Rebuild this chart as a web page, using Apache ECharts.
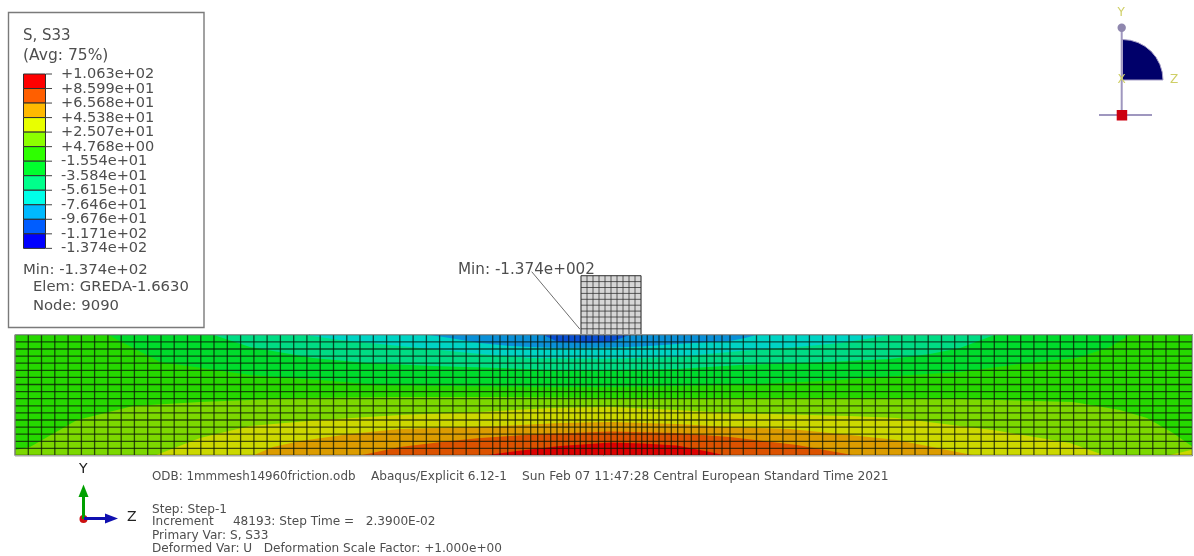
<!DOCTYPE html>
<html>
<head>
<meta charset="utf-8">
<style>
html,body{margin:0;padding:0;background:#fff}
#chart{width:1194px;height:556px;filter:blur(0.5px)}
</style>
<script src="https://cdn.jsdelivr.net/npm/echarts@6/dist/echarts.min.js"></script>
</head>
<body>
<div id="chart"></div>
<script>
// Legend
const legendLabels = ['+1.063e+02','+8.599e+01','+6.568e+01','+4.538e+01','+2.507e+01','+4.768e+00','-1.554e+01','-3.584e+01','-5.615e+01','-7.646e+01','-9.676e+01','-1.171e+02','-1.374e+02'];
const legendColors = ['#ff0000','#ff5f00','#ffb900','#e8ff00','#8cff00','#2eff00','#00ff2e','#00ff8b','#00ffe8','#00b9ff','#005dff','#0000ff'];

// Mesh of the plate (position along the plate, height above its base)
const plateColumns = [0,13.3,26.5,39.8,53.1,66.4,79.6,92.9,106.2,119.4,132.7,146,159.2,172.5,185.8,199,212.3,225.6,238.9,252.1,265.4,278.7,291.9,305.2,318.5,331.8,345,358.3,371.6,384.8,398.1,411.4,424.6,437.9,451.2,464.5,477.7,485,492.7,500.3,508,515.7,522.7,529.3,535.7,542,548,553.7,559.7,565.3,571,577,583.5,589.7,596,602.3,608.5,615,621,626.7,632.3,638.3,644,650,656.3,662.7,669.3,676.3,684,691.7,699.3,707,715,728.3,741.5,754.7,767.9,781.1,794.4,807.6,820.8,834,847.2,860.4,873.6,886.8,900,913.2,926.5,939.7,952.9,966.1,979.3,992.5,1005.7,1018.9,1032.1,1045.3,1058.6,1071.8,1085,1098.2,1111.4,1124.6,1137.8,1151,1164.2,1177.4];
const plateRows = [0,7.1,14.2,21.3,28.4,35.5,42.6,49.7,56.8,63.9,71,78.1,85.2,92.3,99.4,106.5,113.7,120.8];

// Mesh of the block sitting on the plate
const blockColumns = [566,572,578,584,590,596,602,608,614,620,626];
const blockRows = [120.8,126.7,132.6,138.5,144.4,150.3,156.2,162.1,168,173.9,179.8];

// Contour lines, coldest first: [positions], [heights]
const levelM97X = [528,543,575,596,615];
const levelM97Y = [120.8,113.5,112.5,113.5,120.8];
const levelM76X = [413,435,465,495,515,545,596,628,662,695,715,730,742];
const levelM76Y = [120.8,117.5,112.5,109.5,108.5,107.5,108,109,111.5,113.5,114.5,117.5,120.8];
const levelM56X = [289,325,385,425,465,515,596,662,725,782,825,877];
const levelM56Y = [120.8,115.5,109.5,105.5,101.5,97.5,97,98.5,104.5,108.5,112.5,120.8];
const levelM36X = [198,235,298,352,418,485,535,596,662,725,815,875,915,945,980];
const levelM36Y = [120.8,108.5,97.5,92.5,89.5,87.5,85.5,85.5,86.5,90.5,93.5,96.5,101.5,107.5,120.8];
const levelM15X = [93,145,235,305,365,435,535,596,665,745,808,882,945,1005,1062,1095,1115];
const levelM15Y = [120.8,93.5,80.5,75.5,70.5,69.5,68.5,68.5,69.5,71.5,74.5,79.5,83.5,91.5,97.5,108.5,120.8];
const levelP05X = [0,15,62,118,185,285,385,485,596,715,835,945,1058,1105,1132,1158,1178];
const levelP05Y = [5.5,8.5,35.5,49.5,53.5,57.5,58.5,58.5,57.5,57.5,57.5,56.5,53.5,45.5,37.5,22.5,8.5];
const levelP25X = [140,185,235,305,385,465,535,596,662,715,835,882,945,978,1055,1090];
const levelP25Y = [0,17.5,29.5,35.5,40.5,43.5,47.5,48.5,45.5,42.5,39.5,37.5,29.5,25.5,12.5,0];
const levelP25CornerX = [1153,1178];
const levelP25CornerY = [0,6];
const levelP45X = [238,258,285,335,385,485,545,596,662,715,775,835,882,942,960];
const levelP45Y = [0,8.5,14.5,21.5,26.5,29.5,32.5,33.5,31.5,28.5,26.5,20.5,15.5,3.5,0];
const levelP66X = [345,385,435,465,525,596,662,715,782,840];
const levelP66Y = [0,8.5,14.5,17.5,21.5,24,22.5,18.5,10.5,0];
const levelP86X = [469,502,545,596,628,662,695,710];
const levelP86Y = [0,4.5,9.5,13,12,10,3.5,0];

// Shaded colour above each contour as it shows on the lit plate
const shadedBase = '#0a4fd2';
const shadedBands = [
  ['#0a90d8',levelM97X,levelM97Y],['#00d4c4',levelM76X,levelM76Y],['#00dc84',levelM56X,levelM56Y],
  ['#00dc2c',levelM36X,levelM36Y],['#26d800',levelM15X,levelM15Y],['#7cd800',levelP05X,levelP05Y],
  ['#ccd800',levelP25X,levelP25Y],['#ccd800',levelP25CornerX,levelP25CornerY],['#dc9c00',levelP45X,levelP45Y],
  ['#dc5200',levelP66X,levelP66Y],['#dc0000',levelP86X,levelP86Y]
];

const leaderX = [516.7,565];
const leaderY = [183.8,126.2];

const infoLines = [
  ['ODB: 1mmmesh14960friction.odb',152,477,11.9],['Abaqus/Explicit 6.12-1',371,477,12.1],
  ['Sun Feb 07 11:47:28 Central European Standard Time 2021',522,477,12.25],
  ['Step: Step-1',152,509.5,12.1],['Increment     48193: Step Time =   2.3900E-02',152,522,12.1],
  ['Primary Var: S, S33',152,535.5,12.1],['Deformed Var: U   Deformation Scale Factor: +1.000e+00',152,548.5,12.1]
];

const plateL = plateColumns[0], plateR = plateColumns[plateColumns.length-1];
const plateB = plateRows[0], plateT = plateRows[plateRows.length-1];
const FONT = '"DejaVu Sans"';
const TXT = '#4e4e4e';

function txt(t,x,y,size,extra){
  return {type:'text',x:x,y:y,silent:true,z:50,style:Object.assign({text:t,fill:TXT,font:size+'px '+FONT,textVerticalAlign:'middle',textBaseline:'middle'},extra||{})};
}
const gfx = [];
gfx.push({type:'rect',z:40,silent:true,shape:{x:8.5,y:12.5,width:195.5,height:315},style:{fill:'#fff',stroke:'#7a7a7a',lineWidth:1.4}});
gfx.push(txt('S, S33',23,36.5,15),txt('(Avg: 75%)',23,55.5,15.5));
const cellTop=74, cellH=14.53;
legendColors.forEach((c,i)=>{
  gfx.push({type:'rect',z:41,silent:true,shape:{x:23.5,y:cellTop+i*cellH,width:22,height:cellH},style:{fill:c,stroke:'#2e2e2e',lineWidth:1}});
});
legendLabels.forEach((l,i)=>{
  const y=cellTop+i*cellH;
  gfx.push({type:'line',z:41,silent:true,shape:{x1:46,y1:y,x2:52,y2:y},style:{stroke:'#444',lineWidth:1}});
  gfx.push(txt(l,61,y+0.3,14.5));
});
gfx.push(txt('Min: -1.374e+02',23,270,14.9),txt('Elem: GREDA-1.6630',33,287.5,14.8),txt('Node: 9090',33,306.5,14.8));
gfx.push(txt('Min: -1.374e+002',458,270.5,15.2));
infoLines.forEach(a=>gfx.push(txt(a[0],a[1],a[2],a[3])));

// view triad (bottom left)
gfx.push({type:'line',z:45,silent:true,shape:{x1:83.5,y1:519,x2:83.5,y2:495},style:{stroke:'#00a000',lineWidth:3}});
gfx.push({type:'polygon',z:45,silent:true,shape:{points:[[83.5,484.5],[78.5,497],[88.5,497]]},style:{fill:'#00a000'}});
gfx.push({type:'circle',z:44,silent:true,shape:{cx:83.5,cy:519,r:4},style:{fill:'#cc1010'}});
gfx.push({type:'line',z:46,silent:true,shape:{x1:84,y1:518.5,x2:106,y2:518.5},style:{stroke:'#1010b0',lineWidth:3}});
gfx.push({type:'polygon',z:46,silent:true,shape:{points:[[118,518.5],[105,513.5],[105,523.5]]},style:{fill:'#1010b0'}});
gfx.push(txt('Y',79,469,14,{fill:'#222'}),txt('Z',127,517.5,14,{fill:'#222'}));

// compass triad (top right)
gfx.push({type:'line',z:45,silent:true,shape:{x1:1121.7,y1:28,x2:1121.7,y2:115},style:{stroke:'#9f97bf',lineWidth:2}});
gfx.push({type:'line',z:45,silent:true,shape:{x1:1099,y1:115,x2:1152,y2:115},style:{stroke:'#9f97bf',lineWidth:2}});
gfx.push({type:'sector',z:46,silent:true,shape:{cx:1122.5,cy:80,r0:0,r:40.5,startAngle:-Math.PI/2,endAngle:0,clockwise:true},style:{fill:'#00006a',stroke:'#a79fc7',lineWidth:1}});
gfx.push({type:'circle',z:47,silent:true,shape:{cx:1121.7,cy:27.7,r:4.2},style:{fill:'#8f87ae'}});
gfx.push({type:'rect',z:47,silent:true,shape:{x:1116.7,y:110,width:10.5,height:10.5},style:{fill:'#cc0010'}});
const yel={fill:'#cfcf66'};
gfx.push(txt('Y',1117.5,13,12,yel),txt('X',1117.5,79.5,12,yel),txt('Z',1170,80,12,yel));

function bandPolygon(params,api){
  const item=shadedBands[api.value(0)];
  const xs=item[1], ys=item[2];
  const pts=[[plateL,ys[0]]];
  xs.forEach((x,i)=>pts.push([x,ys[i]]));
  pts.push([plateR,ys[ys.length-1]],[plateR,plateB],[plateL,plateB]);
  return {type:'polygon',shape:{points:pts.map(p=>api.coord(p))},style:{fill:item[0]}};
}
function meshChildren(api,cols,rows,style){
  const ch=[];
  const x0=cols[0],x1=cols[cols.length-1],y0=rows[0],y1=rows[rows.length-1];
  cols.forEach(x=>{const a=api.coord([x,y0]),b=api.coord([x,y1]);ch.push({type:'line',shape:{x1:a[0],y1:a[1],x2:b[0],y2:b[1]},style:style});});
  rows.forEach(y=>{const a=api.coord([x0,y]),b=api.coord([x1,y]);ch.push({type:'line',shape:{x1:a[0],y1:a[1],x2:b[0],y2:b[1]},style:style});});
  return ch;
}
function rectOf(api,cols,rows){
  const a=api.coord([cols[0],rows[rows.length-1]]),b=api.coord([cols[cols.length-1],rows[0]]);
  return {x:a[0],y:a[1],width:b[0]-a[0],height:b[1]-a[1]};
}

const chart=echarts.init(document.getElementById('chart'),null,{renderer:'canvas'});
chart.setOption({
  animation:false,
  backgroundColor:'#fff',
  tooltip:{show:false},
  grid:{left:0,right:0,top:0,bottom:0,containLabel:false},
  xAxis:{type:'value',min:-15,max:1179,show:false},
  yAxis:{type:'value',min:-100.5,max:455.5,show:false},
  graphic:{elements:gfx},
  series:[
    {type:'custom',silent:true,z:1,clip:true,data:[[0]],encode:{x:-1,y:-1},
     renderItem:(p,api)=>({type:'rect',shape:rectOf(api,plateColumns,plateRows),style:{fill:shadedBase}})},
    {type:'custom',silent:true,z:2,clip:true,data:shadedBands.map((b,i)=>[i]),encode:{x:-1,y:-1},renderItem:bandPolygon},
    {type:'custom',silent:true,z:3,clip:false,data:[[0]],encode:{x:-1,y:-1},
     renderItem:(p,api)=>({type:'group',children:
       [{type:'rect',shape:rectOf(api,blockColumns,blockRows),style:{fill:'#d6d6d6',stroke:'#8a8a8a',lineWidth:1}}]
       .concat(meshChildren(api,blockColumns,blockRows,{stroke:'rgba(45,45,45,0.75)',lineWidth:1}))
       .concat(meshChildren(api,plateColumns,plateRows,{stroke:'rgba(10,20,5,0.72)',lineWidth:1.3}))
       .concat([{type:'rect',shape:rectOf(api,plateColumns,plateRows),style:{fill:'none',stroke:'#a8a8a8',lineWidth:1}}])
     })},
    {type:'line',silent:true,z:4,symbol:'none',animation:false,lineStyle:{color:'#6e6e6e',width:1},
     data:leaderX.map((x,i)=>[x,leaderY[i]])}
  ]
});
</script>
</body>
</html>
